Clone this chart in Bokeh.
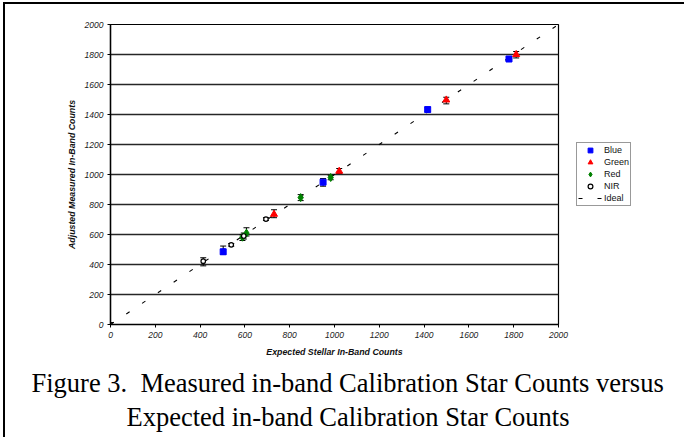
from bokeh.plotting import figure
from bokeh.models import (FixedTicker, Whisker, TeeHead, ColumnDataSource, Legend,
                          LegendItem, Title, Range1d)
from bokeh.embed import file_html
from bokeh.resources import INLINE

# ---- data ----
axis_ticks = [0, 200, 400, 600, 800, 1000, 1200, 1400, 1600, 1800, 2000]

blue_x = [503, 949, 1416, 1779]
blue_y = [485, 949, 1433, 1770]
blue_lo = [468, 922, 1418, 1755]
blue_hi = [523, 973, 1448, 1785]

green_x = [730, 1021, 1499, 1811]
green_y = [735, 1022, 1497, 1800]
green_lo = [712, 1007, 1471, 1777]
green_hi = [765, 1040, 1515, 1820]

red_x = [589, 607, 849, 983]
red_y = [582, 609, 846, 980]
red_lo = [560, 590, 826, 965]
red_hi = [598, 645, 866, 995]

nir_x = [414, 539, 595, 694]
nir_y = [422, 531, 590, 703]
nir_lo = [391, 522, 570, 694]
nir_hi = [445, 540, 610, 712]

ideal_x = [0, 2000]
ideal_y = [0, 2000]
ideal_err_x = [0]
ideal_err_lo = [-13]
ideal_err_hi = [13]

x_title = "Expected Stellar In-Band Counts"
y_title = "Adjusted Measured In-Band Counts"
caption1 = "Figure 3.\u00a0 Measured in-band Calibration Star Counts versus"
caption2 = "Expected in-band Calibration Star Counts"

p = figure(frame_width=448, frame_height=300, output_backend="svg", toolbar_location=None,
           x_range=Range1d(0, 2000), y_range=Range1d(0, 2000),
           min_border_left=105, min_border_right=126, min_border_top=20,
           min_border_bottom=113,
           styles={"border-top": "2px solid black", "border-left": "2px solid black",
                   "margin-left": "3px", "margin-top": "2px"})
p.background_fill_color = "white"
p.border_fill_color = "white"
p.outline_line_color = "black"
p.outline_line_width = 1.2
p.xgrid.visible = False
p.ygrid.grid_line_color = "#262626"
p.ygrid.grid_line_width = 1.4

for ax in (p.xaxis[0], p.yaxis[0]):
    ax.ticker = FixedTicker(ticks=axis_ticks)
    ax.axis_line_color = "black"
    ax.axis_line_width = 1.4
    ax.major_tick_in = 0
    ax.major_tick_out = 3
    ax.major_tick_line_color = "black"
    ax.minor_tick_line_color = None
    ax.major_label_text_font = "Liberation Sans"
    ax.major_label_text_font_style = "italic"
    ax.major_label_text_font_size = "8.5px"
    ax.major_label_text_color = "#222222"
    ax.major_label_standoff = 4
    ax.axis_label_text_font = "Liberation Sans"
    ax.axis_label_text_font_style = "bold italic"
    ax.axis_label_text_font_size = "8.8px"
    ax.axis_label_text_color = "#111111"

p.xaxis.axis_label = x_title
p.yaxis.axis_label = y_title
p.xaxis.axis_label_standoff = 6
p.yaxis.axis_label_standoff = 5

# ideal line
r_ideal = p.line(ideal_x, ideal_y, line_color="black", line_width=1.1, line_dash="4 15")

def add_err(xs, lo, hi, size=6):
    src = ColumnDataSource(dict(x=xs, lo=lo, hi=hi))
    w = Whisker(source=src, base="x", lower="lo", upper="hi", dimension="height",
                line_color="black", line_width=1,
                upper_head=TeeHead(size=size, line_color="black", line_width=1),
                lower_head=TeeHead(size=size, line_color="black", line_width=1))
    p.add_layout(w)

add_err(ideal_err_x, ideal_err_lo, ideal_err_hi)
add_err(blue_x, blue_lo, blue_hi)
add_err(green_x, green_lo, green_hi)
add_err(red_x, red_lo, red_hi)
add_err(nir_x, nir_lo, nir_hi)

r_blue = p.scatter(blue_x, blue_y, marker="square", size=6, fill_color="#0000FF",
                   line_color="#0000FF")
r_green = p.scatter(green_x, green_y, marker="triangle", size=7, fill_color="#FF0000",
                    line_color="#FF0000")
r_red = p.scatter(red_x, red_y, marker="diamond", size=8, fill_color="#008000",
                  line_color="#008000")
r_nir = p.scatter(nir_x, nir_y, marker="circle", size=4.5, fill_color="white",
                  line_color="black", line_width=1.2)

legend = Legend(items=[
    LegendItem(label="Blue", renderers=[r_blue]),
    LegendItem(label="Green", renderers=[r_green]),
    LegendItem(label="Red", renderers=[r_red]),
    LegendItem(label="NIR", renderers=[r_nir]),
    LegendItem(label="Ideal", renderers=[r_ideal]),
], location="center_left")
legend.label_text_font = "Liberation Sans"
legend.label_text_font_size = "9px"
legend.label_text_color = "#111111"
legend.label_height = 12
legend.glyph_height = 12
legend.glyph_width = 24
legend.label_standoff = 2
legend.spacing = 0
legend.padding = 1
legend.margin = 18
legend.border_line_color = "#333333"
legend.border_line_width = 1.5
legend.background_fill_color = "white"
legend.background_fill_alpha = 1
p.add_layout(legend, "right")

# caption (two centred lines below the chart)
cap_size = 26.5
for txt, off, stand in ((caption1, -79, 12), (caption2, 16, -8)):
    p.add_layout(Title(text=txt, align="left", offset=off, standoff=stand,
                       text_font="Liberation Serif", text_font_size=f"{cap_size}px",
                       text_font_style="normal", text_color="black"), "below")

open("out.html", "w").write(file_html(p, INLINE))
